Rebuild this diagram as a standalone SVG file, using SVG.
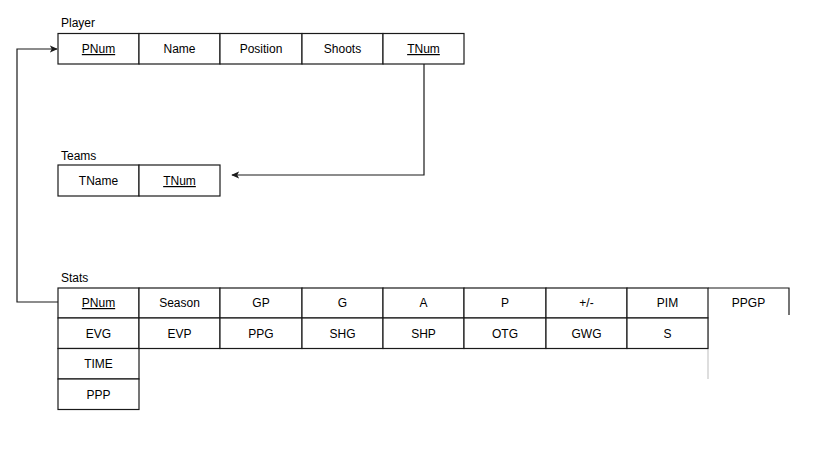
<svg xmlns="http://www.w3.org/2000/svg" width="816" height="467" viewBox="0 0 816 467">
<style>
  .cell { fill: #ffffff; stroke: #1a1a1a; stroke-width: 1.2; }
  .t { font-family: "Liberation Sans", Arial, sans-serif; font-size: 12px; fill: #000; text-anchor: middle; }
  .lbl { font-family: "Liberation Sans", Arial, sans-serif; font-size: 12px; fill: #000; }
  .u { text-decoration: underline; }
  .edge { fill: none; stroke: #1a1a1a; stroke-width: 1.2; }
</style>
<defs>
  <marker id="arr" viewBox="0 0 10 10" refX="9" refY="5" markerWidth="8" markerHeight="8" markerUnits="userSpaceOnUse" orient="auto">
    <path d="M0,0.5 L10,5 L0,9.5 L2.5,5 Z" fill="#1a1a1a"/>
  </marker>
</defs>
<rect width="816" height="467" fill="#ffffff"/>

<g id="Player">
  <text class="lbl" x="61" y="27">Player</text>
  <rect class="cell" x="58" y="33.5" width="81" height="30.5"/>
  <rect class="cell" x="139" y="33.5" width="81" height="30.5"/>
  <rect class="cell" x="220" y="33.5" width="82" height="30.5"/>
  <rect class="cell" x="302" y="33.5" width="81" height="30.5"/>
  <rect class="cell" x="383" y="33.5" width="81" height="30.5"/>
  <text class="t u" x="98.5" y="53">PNum</text>
  <text class="t" x="179.5" y="53">Name</text>
  <text class="t" x="261" y="53">Position</text>
  <text class="t" x="342.5" y="53">Shoots</text>
  <text class="t u" x="423.5" y="53">TNum</text>
</g>

<g id="Teams">
  <text class="lbl" x="61" y="160">Teams</text>
  <rect class="cell" x="58" y="165" width="81" height="31"/>
  <rect class="cell" x="139" y="165" width="81" height="31"/>
  <text class="t" x="98.5" y="185">TName</text>
  <text class="t u" x="179.5" y="185">TNum</text>
</g>

<g id="Stats">
  <text class="lbl" x="61" y="282">Stats</text>
  <g>
    <rect class="cell" x="58" y="288" width="81" height="30"/>
    <rect class="cell" x="139" y="288" width="81" height="30"/>
    <rect class="cell" x="220" y="288" width="82" height="30"/>
    <rect class="cell" x="302" y="288" width="81" height="30"/>
    <rect class="cell" x="383" y="288" width="81" height="30"/>
    <rect class="cell" x="464" y="288" width="82" height="30"/>
    <rect class="cell" x="546" y="288" width="81" height="30"/>
    <rect class="cell" x="627" y="288" width="81" height="30"/>
    <path class="edge" d="M708,288 H789 V315"/>
    <path d="M708,318 V379" fill="none" stroke="#c8c8c8" stroke-width="1.2"/>
    <text class="t u" x="98.5" y="307">PNum</text>
    <text class="t" x="179.5" y="307">Season</text>
    <text class="t" x="261" y="307">GP</text>
    <text class="t" x="342.5" y="307">G</text>
    <text class="t" x="423.5" y="307">A</text>
    <text class="t" x="505" y="307">P</text>
    <text class="t" x="586.5" y="307">+/-</text>
    <text class="t" x="667.5" y="307">PIM</text>
    <text class="t" x="748.5" y="307">PPGP</text>
  </g>
  <g>
    <rect class="cell" x="58" y="318" width="81" height="30.5"/>
    <rect class="cell" x="139" y="318" width="81" height="30.5"/>
    <rect class="cell" x="220" y="318" width="82" height="30.5"/>
    <rect class="cell" x="302" y="318" width="81" height="30.5"/>
    <rect class="cell" x="383" y="318" width="81" height="30.5"/>
    <rect class="cell" x="464" y="318" width="82" height="30.5"/>
    <rect class="cell" x="546" y="318" width="81" height="30.5"/>
    <rect class="cell" x="627" y="318" width="81" height="30.5"/>
    <text class="t" x="98.5" y="337.5">EVG</text>
    <text class="t" x="179.5" y="337.5">EVP</text>
    <text class="t" x="261" y="337.5">PPG</text>
    <text class="t" x="342.5" y="337.5">SHG</text>
    <text class="t" x="423.5" y="337.5">SHP</text>
    <text class="t" x="505" y="337.5">OTG</text>
    <text class="t" x="586.5" y="337.5">GWG</text>
    <text class="t" x="667.5" y="337.5">S</text>
  </g>
  <rect class="cell" x="58" y="348.5" width="81" height="30.5"/>
  <text class="t" x="98.5" y="368">TIME</text>
  <rect class="cell" x="58" y="379" width="81" height="30.5"/>
  <text class="t" x="98.5" y="398.5">PPP</text>
</g>

<g id="connectors">
  <path class="edge" d="M424,64 V175 H232" marker-end="url(#arr)"/>
  <path class="edge" d="M58,302 H17 V49 H57" marker-end="url(#arr)"/>
</g>
</svg>
